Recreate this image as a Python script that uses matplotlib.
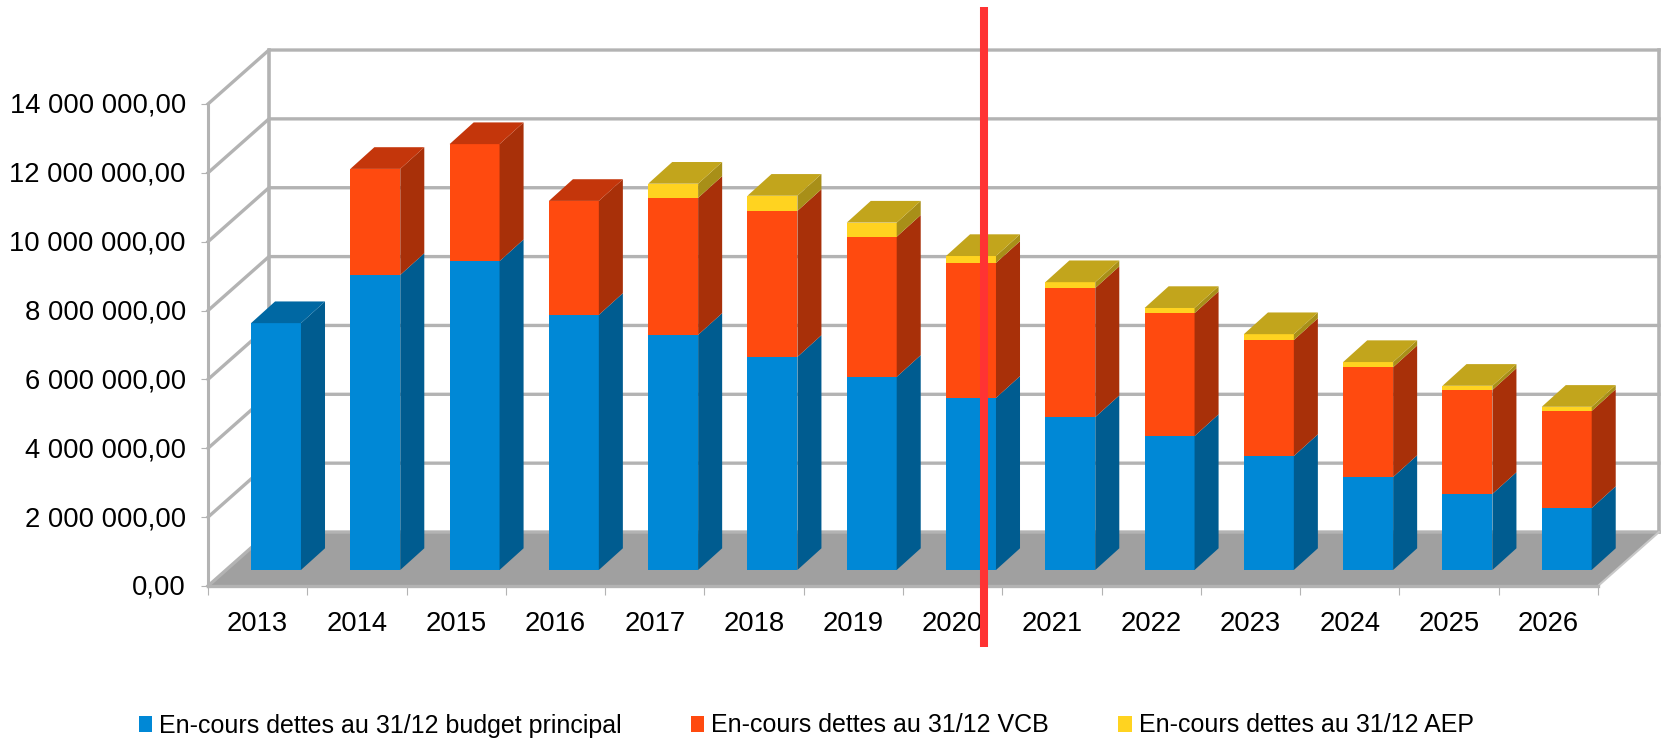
import matplotlib
matplotlib.use('Agg')
import matplotlib.pyplot as plt
from matplotlib.patches import Polygon, Patch
from matplotlib.transforms import ScaledTranslation

plt.rcParams['font.family'] = ['Liberation Sans', 'DejaVu Sans']

years = ['2013', '2014', '2015', '2016', '2017', '2018', '2019',
         '2020', '2021', '2022', '2023', '2024', '2025', '2026']
budget_principal = [7.17, 8.57, 8.97, 7.41, 6.83, 6.19, 5.61,
                    5.00, 4.44, 3.89, 3.31, 2.70, 2.21, 1.80]
vcb = [0, 3.08, 3.40, 3.31, 3.98, 4.24, 4.07,
       3.92, 3.75, 3.57, 3.37, 3.19, 3.02, 2.82]
aep = [0, 0, 0, 0, 0.41, 0.44, 0.41,
       0.20, 0.17, 0.15, 0.17, 0.15, 0.12, 0.12]
y_ticks = [0, 2, 4, 6, 8, 10, 12, 14]
y_labels = ['0,00', '2 000 000,00', '4 000 000,00', '6 000 000,00',
            '8 000 000,00', '10 000 000,00', '12 000 000,00', '14 000 000,00']
series_names = ['En-cours dettes au 31/12 budget principal',
                'En-cours dettes au 31/12 VCB',
                'En-cours dettes au 31/12 AEP']

GRID = '#b3b3b3'
front_cols = ['#0088d6', '#ff4a0f', '#ffd320']
side_cols = ['#005c90', '#a83009', '#a88f18']
top_cols = ['#0068a3', '#c4360b', '#c2a51c']

# depth of the 3d box and of the bars, in data units
wall_dx, wall_dy = 0.614, 1.568
bar_dx, bar_dy = 0.242, 0.63
bar_w = 0.503
bar_shift = 0.185
floor_y = 0.465

W, H = 1664, 739
fig = plt.figure(figsize=(W / 100, H / 100), dpi=100)
ax = fig.add_axes([208 / W, (H - 586) / H, 1390 / W, 482 / H])
ax.set_xlim(0, 14)
ax.set_ylim(0, 14)
for s in ax.spines.values():
    s.set_visible(False)

# floor
ax.add_patch(Polygon([(0, 0), (14, 0), (14 + wall_dx, wall_dy), (wall_dx, wall_dy)],
                     fc='#a0a0a0', ec='none', zorder=1, clip_on=False))
ax.plot([0, 14], [0, 0], color=GRID, lw=2.4, zorder=1.5, clip_on=False)

# walls and gridlines
for v in y_ticks:
    ax.plot([0, wall_dx, 14 + wall_dx], [v, v + wall_dy, v + wall_dy],
            color=GRID, lw=2.4, zorder=1, clip_on=False, solid_joinstyle='miter')
ax.plot([0, 0], [0, 14], color=GRID, lw=2.2, zorder=1, clip_on=False)
ax.plot([wall_dx, wall_dx], [wall_dy, 14 + wall_dy], color=GRID, lw=2.6, zorder=1, clip_on=False)
ax.plot([14 + wall_dx, 14 + wall_dx], [wall_dy, 14 + wall_dy], color=GRID, lw=2.6,
        zorder=1, clip_on=False)
ax.plot([14, 14 + wall_dx], [0, wall_dy], color='#c8c8c8', lw=1.5, zorder=1, clip_on=False)

# stacked bars with their side and top faces
stacks = [budget_principal, vcb, aep]
for i in range(len(years)):
    x0 = i + 0.5 + bar_shift - bar_w / 2
    x1 = x0 + bar_w
    base = floor_y
    last = -1
    for k, vals in enumerate(stacks):
        if vals[i] > 0:
            last = k
    for k, vals in enumerate(stacks):
        h = vals[i]
        if h <= 0:
            continue
        ax.bar(x0 + bar_w / 2, h, width=bar_w, bottom=base, color=front_cols[k],
               linewidth=0, zorder=3, clip_on=False)
        ax.add_patch(Polygon([(x1, base), (x1 + bar_dx, base + bar_dy),
                              (x1 + bar_dx, base + h + bar_dy), (x1, base + h)],
                             fc=side_cols[k], ec='none', zorder=3, clip_on=False))
        base += h
        if k == last:
            ax.add_patch(Polygon([(x0, base), (x1, base), (x1 + bar_dx, base + bar_dy),
                                  (x0 + bar_dx, base + bar_dy)],
                                 fc=top_cols[k], ec='none', zorder=3, clip_on=False))

# red separator
ax.plot([7.815, 7.815], [-1.77, 16.82], color='#ff3333', lw=5.8, zorder=5,
        clip_on=False, solid_capstyle='butt')

ax.set_yticks(y_ticks)
ax.set_yticklabels(y_labels)
ax.tick_params(axis='y', length=5, width=0.8, color=GRID, pad=11, labelsize=19.7, labelcolor='black')
ax.set_xticks(range(15))
ax.set_xticklabels([])
ax.set_xticks([i + 0.5 for i in range(14)], minor=True)
ax.set_xticklabels(years, minor=True)
ax.tick_params(axis='x', which='major', length=6.5, width=0.8, color=GRID)
ax.tick_params(axis='x', which='minor', length=0, pad=17.7, labelsize=19.7)

# y labels sit a pixel above their ticks
nudge = ScaledTranslation(0, 1 / 100, fig.dpi_scale_trans)
for lab in ax.get_yticklabels():
    lab.set_transform(lab.get_transform() + nudge)

handles = [Patch(fc=c, ec='none') for c in front_cols]
fig.legend(handles, series_names, loc='lower left', bbox_to_anchor=(121 / W, -16 / H),
           ncols=3, frameon=False, fontsize=18, handlelength=0.54, handleheight=0.6,
           handletextpad=0.28, columnspacing=2.77, borderpad=0.2)

fig.savefig('out.png', dpi=100)
